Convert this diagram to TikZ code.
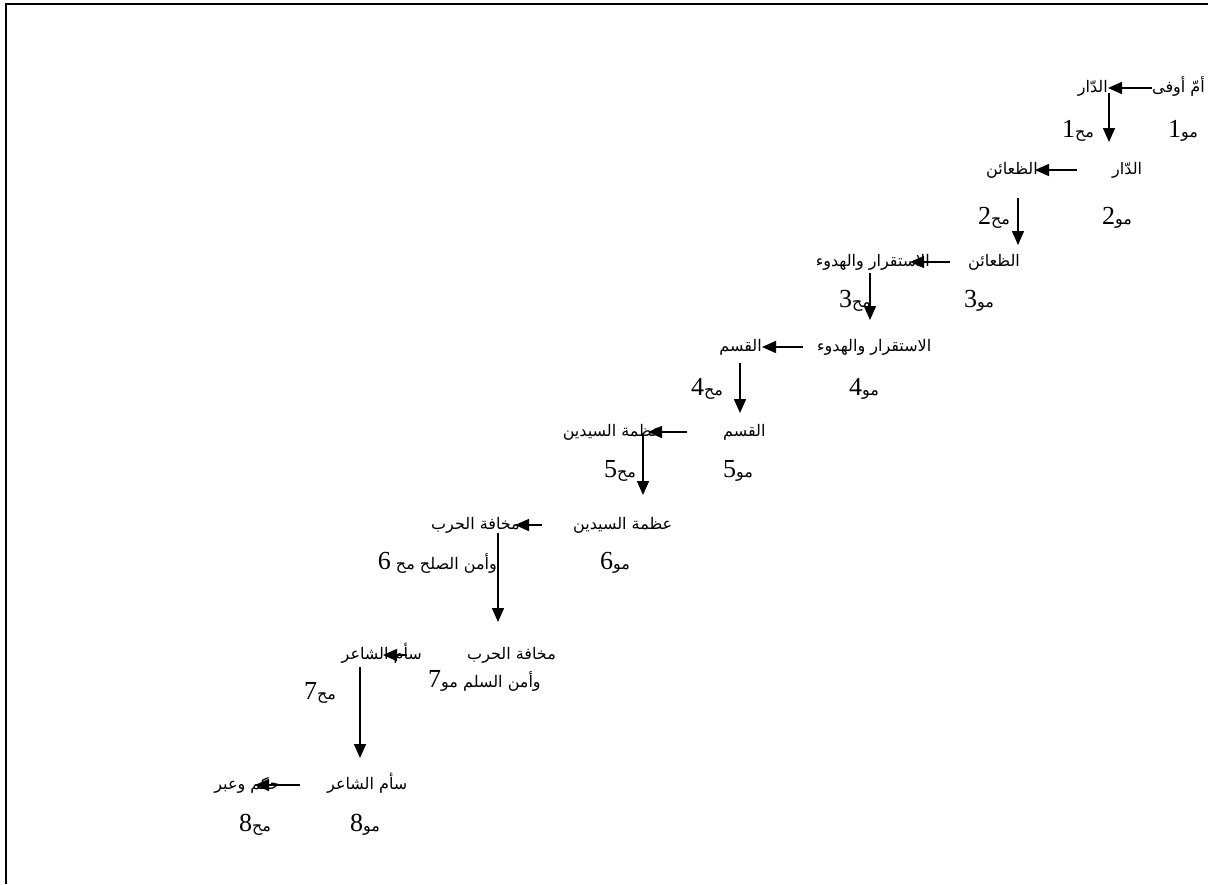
\documentclass[tikz,border=0pt]{standalone}
\usepackage{fontspec}
\usetikzlibrary{arrows.meta}
\TeXXeTstate=1
\newfontfamily\arabicfont[Script=Arabic]{DejaVu Sans}
\newfontfamily\digitfont{Liberation Serif}
\newcommand{\artext}[1]{\beginR #1\endR}
\newcommand{\dg}[1]{{\digitfont\fontsize{26}{26}\selectfont #1}}

\begin{document}
\begin{tikzpicture}[x=1pt,y=-1pt]
\tikzset{t/.style={inner sep=0pt,text height=13pt,text depth=4pt,font=\arabicfont\fontsize{16}{19}\selectfont},
  src/.style={t,anchor=west},
  dst/.style={t,anchor=east},
  lbl/.style={t},
  harr/.style={line width=1.5pt,-{Triangle[length=14pt,width=12pt]}},
  varr/.style={harr}}

\useasboundingbox (0,0) rectangle (1208,884);
\draw[line width=2pt] (6,884) -- (6,4) -- (1208,4);

\path (1152,88) node[src] (l1a) {\artext{أمّ أوفى}};
\path (1108,88) node[dst] (l1b) {\artext{الدّار}};
\path (1183,133) node[lbl] (mo1) {\artext{مو\dg{1}}};
\path (1078,133) node[lbl] (mh1) {\artext{مح\dg{1}}};

\path (1112,170) node[src] (l2a) {\artext{الدّار}};
\path (1038,170) node[dst] (l2b) {\artext{الظعائن}};
\path (1117,220) node[lbl] (mo2) {\artext{مو\dg{2}}};
\path (994,220) node[lbl] (mh2) {\artext{مح\dg{2}}};

\path (968,262) node[src] (l3a) {\artext{الظعائن}};
\path (930,262) node[dst] (l3b) {\artext{الاستقرار والهدوء}};
\path (979,303) node[lbl] (mo3) {\artext{مو\dg{3}}};
\path (855,303) node[lbl] (mh3) {\artext{مح\dg{3}}};

\path (817,347) node[src] (l4a) {\artext{الاستقرار والهدوء}};
\path (762,347) node[dst] (l4b) {\artext{القسم}};
\path (864,391) node[lbl] (mo4) {\artext{مو\dg{4}}};
\path (707,391) node[lbl] (mh4) {\artext{مح\dg{4}}};

\path (723,432) node[src] (l5a) {\artext{القسم}};
\path (662,432) node[dst] (l5b) {\artext{عظمة السيدين}};
\path (738,473) node[lbl] (mo5) {\artext{مو\dg{5}}};
\path (620,473) node[lbl] (mh5) {\artext{مح\dg{5}}};

\path (573,525) node[src] (l6a) {\artext{عظمة السيدين}};
\path (520,525) node[dst] (l6b) {\artext{مخافة الحرب}};
\path (615,565) node[lbl] (mo6) {\artext{مو\dg{6}}};
\path (497,565) node[dst] (mh6) {\artext{وأمن الصلح مح \dg{6}}};

\path (467,655) node[src] (l7a) {\artext{مخافة الحرب}};
\path (422,655) node[dst] (l7b) {\artext{سأم الشاعر}};
\path (428,683) node[src] (mo7) {\artext{وأمن السلم مو\dg{7}}};
\path (320,695) node[lbl] (mh7) {\artext{مح\dg{7}}};

\path (327,785) node[src] (l8a) {\artext{سأم الشاعر}};
\path (280,785) node[dst] (l8b) {\artext{حكم وعبر}};
\path (365,827) node[lbl] (mo8) {\artext{مو\dg{8}}};
\path (255,827) node[lbl] (mh8) {\artext{مح\dg{8}}};

\coordinate (t1) at (1109,142);
\coordinate (t2) at (1018,245);
\coordinate (t3) at (870,320);
\coordinate (t4) at (740,413);
\coordinate (t5) at (643,495);
\coordinate (t6) at (498,622);
\coordinate (t7) at (360,758);

\draw[harr] (l1a.west) -- (l1b.east);
\draw[harr,shorten <=35pt,shorten >=-3pt] (l2a.west) -- (l2b.east);
\draw[harr,shorten <=18pt,shorten >=-20pt] (l3a.west) -- (l3b.east);
\draw[harr,shorten <=14pt] (l4a.west) -- (l4b.east);
\draw[harr,shorten <=36pt,shorten >=-14pt] (l5a.west) -- (l5b.east);
\draw[harr,shorten <=31pt,shorten >=-5pt] (l6a.west) -- (l6b.east);
\draw[harr,shorten <=60pt,shorten >=-39pt] (l7a.west) -- (l7b.east);
\draw[harr,shorten <=27pt,shorten >=-25pt] (l8a.west) -- (l8b.east);

\draw[varr,shorten <=5pt] (l1b.east -| t1) -- (t1);
\draw[varr,shorten <=28pt] (l2b.east -| t2) -- (t2);
\draw[varr,shorten <=11pt] (l3b.east -| t3) -- (t3);
\draw[varr,shorten <=16pt] (l4b.east -| t4) -- (t4);
\draw[varr,shorten <=1pt] (l5b.east -| t5) -- (t5);
\draw[varr,shorten <=8pt] (l6b.east -| t6) -- (t6);
\draw[varr,shorten <=12pt] (l7b.east -| t7) -- (t7);
\end{tikzpicture}
\end{document}
